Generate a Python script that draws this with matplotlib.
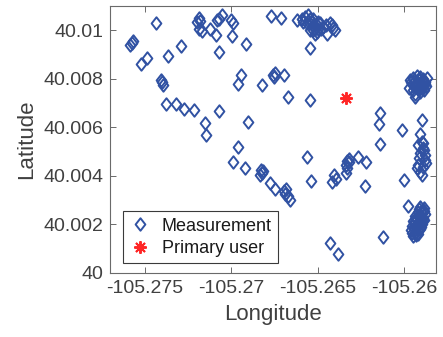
import numpy as np
from matplotlib import pyplot as plt
from matplotlib.path import Path

plt.rcParams['font.family'] = ['Liberation Sans', 'DejaVu Sans']

# measurement locations (longitude, latitude)
meas_lon = [
    -105.27436, -105.27590, -105.27578, -105.27567, -105.27525, -105.27487, -105.27365, -105.27293,
    -105.27407, -105.27403, -105.27394, -105.27378, -105.27321, -105.27274, -105.27218, -105.27151,
    -105.27149, -105.27187, -105.27182, -105.27199, -105.27186, -105.27172, -105.27124, -105.27089,
    -105.27072, -105.27070, -105.27056, -105.27083, -105.27069, -105.27002, -105.26989, -105.26999,
    -105.26918, -105.26768, -105.26711,
    -105.26622, -105.26593, -105.26574, -105.26555, -105.26545, -105.26535, -105.26526, -105.26516,
    -105.26506, -105.26487, -105.26468, -105.26448, -105.26429, -105.26419, -105.26564, -105.26583,
    -105.26545, -105.26516, -105.26497, -105.26411, -105.26400, -105.26544,
    -105.26555, -105.26530, -105.26506, -105.26480, -105.26455, -105.26525, -105.26500,
    -105.26947, -105.26960, -105.26825, -105.26760, -105.26749, -105.26753, -105.26698, -105.26670,
    -105.26542, -105.26902,
    -105.25966, -105.25947, -105.25927, -105.25908, -105.25889, -105.25879, -105.25898, -105.25918,
    -105.25937, -105.25935, -105.25954, -105.25971, -105.25873, -105.25885, -105.25908, -105.25925,
    -105.25948, -105.25867,
    -105.25937, -105.25914, -105.25890, -105.25908, -105.25931, -105.25879, -105.25960, -105.25914,
    -105.25943, -105.25896,
    -105.26139, -105.26143, -105.26014, -105.25899, -105.25908, -105.25918, -105.25889, -105.26139,
    -105.26962, -105.26989, -105.26919, -105.26828, -105.26825, -105.26817, -105.26836, -105.26779,
    -105.26748, -105.26695, -105.26687, -105.26682, -105.26671, -105.26662, -105.26562, -105.26539,
    -105.26407, -105.26416, -105.26397, -105.26339, -105.26329, -105.26320, -105.26328, -105.26336,
    -105.26319, -105.26265, -105.26220, -105.26225, -105.26428, -105.26380, -105.26124, -105.25999,
    -105.25977,
    -105.25898, -105.25889, -105.25908, -105.25879, -105.25879, -105.25889, -105.25918, -105.25927,
    -105.25908, -105.25898, -105.25885, -105.25873, -105.25914,
    -105.25908, -105.25890, -105.25919, -105.25879, -105.25937, -105.25902, -105.25885, -105.25948,
    -105.25919, -105.25896, -105.25954, -105.25931, -105.25908, -105.25960, -105.25937, -105.25919,
    -105.25948, -105.25885, -105.25925, -105.25902,
    -105.25914, -105.25896, -105.25931, -105.25890, -105.25943, -105.25908, -105.25925, -105.25902,
    -105.25943, -105.25919, -105.25954, -105.25931, -105.25914, -105.25885, -105.25937, -105.25896,
]
meas_lat = [
    40.01028, 40.00940, 40.00949, 40.00957, 40.00859, 40.00886, 40.00893, 40.00934,
    40.00795, 40.00785, 40.00773, 40.00696, 40.00694, 40.00675, 40.00672, 40.00618,
    40.00570, 40.01051, 40.01037, 40.01033, 40.01007, 40.00996, 40.01007, 40.00979,
    40.00911, 40.01048, 40.01062, 40.01041, 40.00666, 40.01041, 40.01029, 40.00977,
    40.00942, 40.01058, 40.01051,
    40.01041, 40.01048, 40.01055, 40.01062, 40.01048, 40.01034, 40.01021, 40.01007,
    40.00993, 40.01028, 40.01014, 40.00986, 40.01028, 40.01021, 40.01028, 40.01034,
    40.01000, 40.00986, 40.01007, 40.01008, 40.01000, 40.00926,
    40.01040, 40.01045, 40.01020, 40.01005, 40.01020, 40.01000, 40.01035,
    40.00815, 40.00780, 40.00773, 40.00815, 40.00822, 40.00808, 40.00817, 40.00723,
    40.00712, 40.00622,
    40.00794, 40.00801, 40.00810, 40.00808, 40.00797, 40.00787, 40.00773, 40.00760,
    40.00739, 40.00725, 40.00778, 40.00761, 40.00769, 40.00753, 40.00745, 40.00786,
    40.00753, 40.00802,
    40.00790, 40.00795, 40.00785, 40.00770, 40.00765, 40.00777, 40.00785, 40.00755,
    40.00770, 40.00760,
    40.00657, 40.00613, 40.00590, 40.00631, 40.00574, 40.00526, 40.00533, 40.00530,
    40.00519, 40.00456, 40.00431, 40.00423, 40.00411, 40.00420, 40.00404, 40.00370,
    40.00347, 40.00335, 40.00326, 40.00347, 40.00318, 40.00298, 40.00477, 40.00379,
    40.00405, 40.00376, 40.00386, 40.00445, 40.00462, 40.00456, 40.00431, 40.00410,
    40.00471, 40.00479, 40.00458, 40.00356, 40.00123, 40.00076, 40.00147, 40.00383,
    40.00276,
    40.00541, 40.00513, 40.00492, 40.00485, 40.00464, 40.00437, 40.00444, 40.00430,
    40.00416, 40.00403, 40.00506, 40.00452, 40.00473,
    40.00271, 40.00258, 40.00250, 40.00242, 40.00234, 40.00230, 40.00217, 40.00213,
    40.00209, 40.00201, 40.00192, 40.00188, 40.00180, 40.00176, 40.00168, 40.00160,
    40.00151, 40.00267, 40.00221, 40.00250,
    40.00262, 40.00246, 40.00226, 40.00225, 40.00205, 40.00205, 40.00196, 40.00190,
    40.00184, 40.00175, 40.00165, 40.00157, 40.00238, 40.00255, 40.00215, 40.00212,
]

# primary user location
pu_lon = [-105.26336]
pu_lat = [40.00719]

xticks      = [-105.275, -105.27, -105.265, -105.26]
xticklabels = ['-105.275', '-105.27', '-105.265', '-105.26']
yticks      = [40.0, 40.002, 40.004, 40.006, 40.008, 40.01]
yticklabels = ['40', '40.002', '40.004', '40.006', '40.008', '40.01']

blue     = '#3152a3'
red      = '#ff2626'
txtcol   = '#404040'
diamond  = Path([(0, 1), (0.78, 0), (0, -1), (-0.78, 0), (0, 1)],
                [Path.MOVETO, Path.LINETO, Path.LINETO, Path.LINETO, Path.CLOSEPOLY])

fig = plt.figure(figsize=(4.43, 3.37), dpi=100)
ax  = fig.add_axes([0.2483, 0.1908, 0.7352, 0.7914])

ax.plot(meas_lon, meas_lat, linestyle='none', marker=diamond, ms=9, mfc='none',
        mec=blue, mew=1.4, label='Measurement')
ax.plot(pu_lon, pu_lat, linestyle='none', marker=(8, 2, 0), ms=9, mec=red,
        mew=1.4, label='Primary user')

ax.set_xlim([-105.27703, -105.25817])
ax.set_ylim([40.0, 40.011])
ax.set_xticks(xticks)
ax.set_xticklabels(xticklabels)
ax.set_yticks(yticks)
ax.set_yticklabels(yticklabels)
ax.tick_params(direction='in', top=True, right=True, length=4, width=0.7,
               colors='#6a6a6a', labelcolor=txtcol, labelsize=14, pad=5)
for s in ax.spines.values():
    s.set_color('#6a6a6a')
    s.set_linewidth(0.8)

ax.set_xlabel('Longitude', fontsize=16, color=txtcol, labelpad=5)
ax.set_ylabel('Latitude', fontsize=16, color=txtcol, labelpad=4)

leg = ax.legend(loc='lower left', bbox_to_anchor=(0.039, 0.035), borderaxespad=0,
                fontsize=13, fancybox=False, framealpha=1, edgecolor='#3a3a3a',
                handlelength=1.2, handletextpad=0.6, borderpad=0.35, labelspacing=0.3)
leg.get_frame().set_linewidth(0.8)
for t in leg.get_texts():
    t.set_color('#1a1a1a')

plt.savefig('out.png', dpi=100)
